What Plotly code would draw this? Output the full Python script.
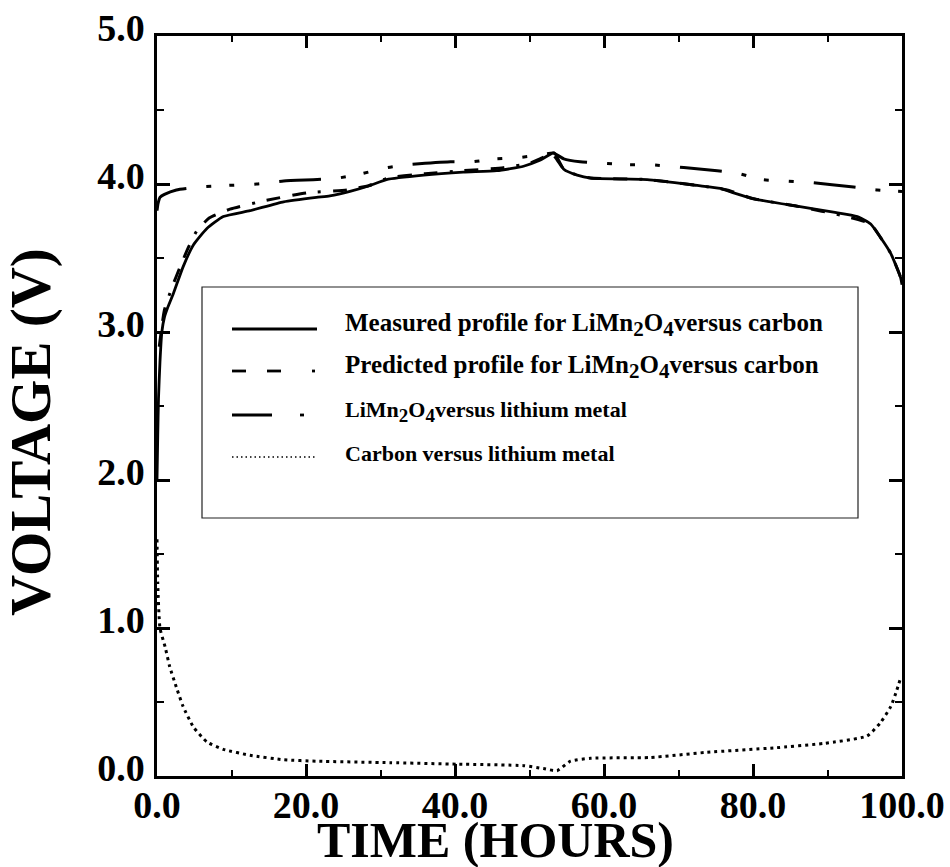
import plotly.graph_objects as go

# Time (hours) and cell voltage (V) for each profile
t_measured = [0, 0.1, 0.2, 0.4, 0.65, 1.0, 1.4, 2.2, 3.5, 4.9, 6.7, 8.9, 12.5, 17, 21.4,
              23.2, 25.9, 28.6, 30.8, 35.8, 41.1, 45.6, 49.2, 51.4, 53.3, 54.6, 56.4, 58.2,
              65.8, 72.5, 75.6, 77.4, 80.1, 85.9, 90.8, 94.0, 95.8, 97.1, 98.5, 99.8, 100]
v_measured = [2.0, 2.3, 2.55, 2.8, 3.0, 3.1, 3.16, 3.26, 3.44, 3.59, 3.70, 3.78, 3.82, 3.88, 3.91,
              3.92, 3.95, 3.99, 4.03, 4.06, 4.08, 4.09, 4.12, 4.16, 4.21, 4.10, 4.06, 4.04,
              4.03, 3.99, 3.97, 3.94, 3.90, 3.85, 3.81, 3.78, 3.73, 3.64, 3.53, 3.37, 3.32]

t_predicted = [0.3, 1, 2, 3.1, 4.2, 5.3, 7, 9.8, 14.7, 20.1, 25.5, 28.5, 31, 36, 41.1, 46.5,
               50, 51.4, 53.1, 54.6, 56.4, 58.2, 65.8, 72.5, 76.5, 80.1, 85.9, 92.6, 95.8,
               97.1, 98.5, 99.8, 100]
v_predicted = [2.9, 3.15, 3.30, 3.44, 3.57, 3.68, 3.77, 3.83, 3.89, 3.94, 3.96, 3.99, 4.04, 4.07,
               4.09, 4.11, 4.14, 4.17, 4.20, 4.10, 4.06, 4.04, 4.03, 3.99, 3.96, 3.90, 3.85,
               3.78, 3.73, 3.64, 3.53, 3.37, 3.32]

t_cathode = [0, 0.15, 0.4, 1, 2.6, 5.8, 9.4, 13.4, 17, 21.5, 24.3, 27.5, 30.8, 33.7, 39.4, 42.3,
             45.4, 48.8, 51.8, 53.2, 54.6, 56.8, 60, 63.3, 66.2, 75.2, 78.1, 81.2, 84.6, 87.7,
             93.5, 96.7, 100]
v_cathode = [3.82, 3.87, 3.91, 3.93, 3.96, 3.98, 3.99, 4.0, 4.02, 4.03, 4.04, 4.07, 4.11, 4.13,
             4.15, 4.15, 4.17, 4.18, 4.20, 4.21, 4.17, 4.15, 4.14, 4.13, 4.13, 4.09, 4.07, 4.03,
             4.02, 4.01, 3.98, 3.96, 3.95]

t_carbon = [0, 0.1, 0.4, 1.1, 1.7, 2.6, 3.5, 4.9, 6.7, 8.9, 12.5, 17, 21.4, 31.3, 40.3, 49.2,
            51.9, 53.7, 55.5, 58.2, 66.2, 73.8, 82.8, 89.5, 95.3, 97.1, 98.5, 99.3, 99.8]
v_carbon = [1.6, 1.3, 1.0, 0.87, 0.74, 0.60, 0.47, 0.33, 0.23, 0.18, 0.14, 0.11, 0.10, 0.09,
            0.08, 0.07, 0.05, 0.036, 0.10, 0.12, 0.125, 0.16, 0.19, 0.22, 0.27, 0.36, 0.47,
            0.58, 0.66]

x_ticks = [0, 20, 40, 60, 80, 100]
x_tick_labels = ["0.0", "20.0", "40.0", "60.0", "80.0", "100.0"]
y_ticks = [0, 1, 2, 3, 4, 5]
y_tick_labels = ["0.0", "1.0", "2.0", "3.0", "4.0", "5.0"]

x_title = "TIME (HOURS)"
y_title = "VOLTAGE (V)"


def formula(sub_px):
    sub = '<sub><span style="font-size:%dpx">{}</span></sub>' % sub_px
    return "LiMn" + sub.format("2") + "O" + sub.format("4")


legend_labels = [
    "Measured profile for " + formula(21) + "versus carbon",
    "Predicted profile for " + formula(21) + "versus carbon",
    formula(19) + "versus lithium metal",
    "Carbon versus lithium metal",
]
legend_sizes = [25, 25, 22, 22]

SERIF = "Liberation Serif, Times New Roman, serif"
INK = "black"

DASH_PRED = "14px,12px,14px,12px,3px,12px"
DASH_CATH = "42px,20px,5px,18px,5px,20px,5px,20px"
DASH_CARB = "3px,4px"

fig = go.Figure()

fig.add_trace(go.Scatter(x=t_cathode, y=v_cathode, mode="lines",
                         line=dict(color=INK, width=3, dash=DASH_CATH, shape="spline", smoothing=0.5),
                         showlegend=False))
fig.add_trace(go.Scatter(x=t_predicted, y=v_predicted, mode="lines",
                         line=dict(color=INK, width=3, dash=DASH_PRED, shape="spline", smoothing=0.5),
                         showlegend=False))
fig.add_trace(go.Scatter(x=t_measured, y=v_measured, mode="lines",
                         line=dict(color=INK, width=2.8, shape="spline", smoothing=0.5),
                         showlegend=False))
fig.add_trace(go.Scatter(x=t_carbon, y=v_carbon, mode="lines",
                         line=dict(color=INK, width=3, dash=DASH_CARB, shape="spline", smoothing=0.5),
                         showlegend=False))

# Plot area in pixels; the boxed key and titles are placed in paper coordinates
PL, PR, PT, PB = 157, 902, 36, 776


def px(xp):
    return (xp - PL) / (PR - PL)


def py(yp):
    return (PB - yp) / (PB - PT)


shapes = [dict(type="rect", xref="paper", yref="paper",
               x0=px(202), x1=px(858), y0=py(518), y1=py(287),
               line=dict(color="#222", width=1.2), fillcolor="white", layer="above")]
text_rows = [325, 367, 411, 453]
samples = [
    [(232, 317, "solid", 2.8)],
    [(232, 246, "solid", 2.8), (267, 281, "solid", 2.8), (312, 315, "solid", 2.8)],
    [(232, 272, "solid", 2.8), (300, 304, "solid", 2.8)],
    [(232, 316, "1.5px,3px", 1.5)],
]
annotations = []
for ry, segs, lab, fs in zip(text_rows, samples, legend_labels, legend_sizes):
    for x0, x1, dash, w in segs:
        shapes.append(dict(type="line", xref="paper", yref="paper",
                           x0=px(x0), x1=px(x1), y0=py(ry + 4), y1=py(ry + 4),
                           line=dict(color=INK, width=w, dash=dash), layer="above"))
    annotations.append(dict(xref="paper", yref="paper", x=px(343), y=py(ry),
                            xanchor="left", yanchor="middle", text="<b>" + lab + "</b>",
                            showarrow=False,
                            font=dict(family=SERIF, size=fs, color=INK)))

annotations.append(dict(xref="paper", yref="paper", x=px(495), y=py(840),
                        xanchor="center", yanchor="middle", text="<b>" + x_title + "</b>",
                        showarrow=False, font=dict(family=SERIF, size=50, color=INK)))
annotations.append(dict(xref="paper", yref="paper", x=px(31), y=py(432),
                        xanchor="center", yanchor="middle", text="<b>" + y_title + "</b>",
                        textangle=-90, showarrow=False,
                        font=dict(family=SERIF, size=57, color=INK)))

axis_common = dict(showline=True, linecolor=INK, linewidth=2.5, mirror="allticks",
                   ticks="inside", tickcolor=INK, tickwidth=2.5, showgrid=False,
                   zeroline=False, automargin=False,
                   tickfont=dict(family=SERIF, size=38, color=INK, weight="bold"))

fig.update_layout(
    width=950, height=867,
    margin=dict(l=PL, r=950 - PR, t=PT, b=867 - PB),
    paper_bgcolor="white", plot_bgcolor="white",
    shapes=shapes, annotations=annotations,
    xaxis=dict(range=[0, 100], tickvals=x_ticks, ticktext=x_tick_labels, ticklen=12,
               ticklabelstandoff=-6,
               minor=dict(dtick=10, ticklen=6, ticks="inside", tickcolor=INK, tickwidth=2),
               **axis_common),
    yaxis=dict(range=[0, 5], tickvals=y_ticks, ticktext=y_tick_labels, ticklen=13,
               ticklabelshift=-8, ticklabelstandoff=2,
               minor=dict(dtick=0.5, ticklen=7, ticks="inside", tickcolor=INK, tickwidth=2),
               **axis_common),
)

fig.write_html("out.html")
